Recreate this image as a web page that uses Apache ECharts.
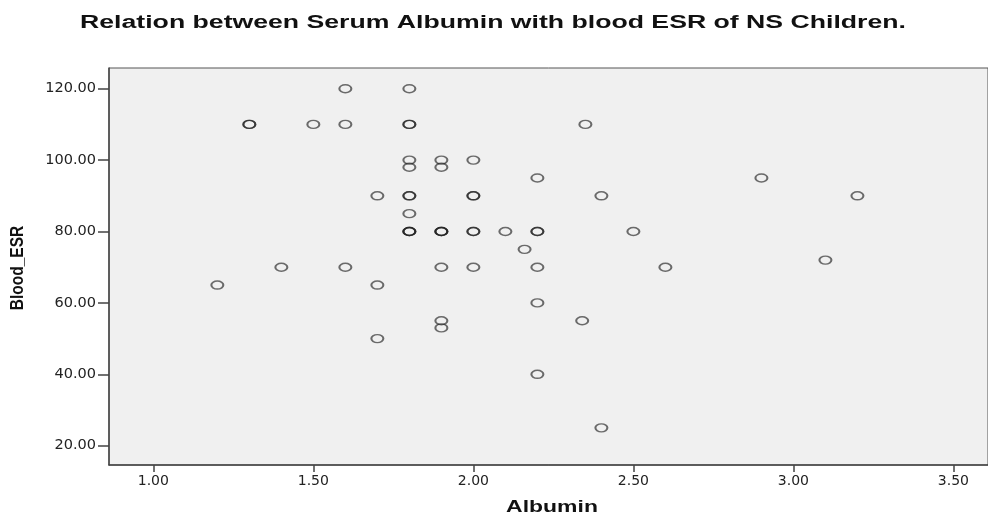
<!DOCTYPE html>
<html>
<head>
<meta charset="utf-8">
<script src="https://cdn.jsdelivr.net/npm/echarts@6/dist/echarts.min.js"></script>
<style>
  html, body { margin: 0; padding: 0; background: #fff; overflow: hidden; }
  #chart_1 { width: 988px; height: 515px; }
</style>
</head>
<body>
<div id="chart_1"></div>
<script>
var albumin = [
  1.2, 1.3, 1.3, 1.4, 1.5, 1.6, 1.6, 1.6, 1.7, 1.7, 1.7,
  1.8, 1.8, 1.8, 1.8, 1.8, 1.8, 1.8, 1.8, 1.8, 1.8, 1.8,
  1.9, 1.9, 1.9, 1.9, 1.9, 1.9, 1.9, 1.9,
  2.0, 2.0, 2.0, 2.0, 2.0, 2.0, 2.1, 2.16,
  2.2, 2.2, 2.2, 2.2, 2.2, 2.2, 2.34, 2.35, 2.4, 2.4, 2.5, 2.6,
  2.9, 3.1, 3.2
];
var bloodEsr = [
  65, 110, 110, 70, 110, 120, 110, 70, 90, 65, 50,
  120, 110, 100, 98, 90, 90, 85, 80, 80, 80, 110,
  100, 98, 80, 80, 70, 55, 53, 80,
  100, 90, 90, 80, 80, 70, 80, 75,
  95, 80, 80, 70, 60, 40, 55, 110, 90, 25, 80, 70,
  95, 72, 90
];
var xTicks = [1.0, 1.5, 2.0, 2.5, 3.0, 3.5];
var yTicks = [20, 40, 60, 80, 100, 120];

var points = albumin.map(function (a, i) { return [a, bloodEsr[i]]; });

var dom = document.getElementById("chart_1");
var myChart = echarts.init(dom);

// SPSS output is stretched sideways, so the big texts are drawn as scaled graphics
var boldText = {
  fontFamily: 'Liberation Sans',
  fontWeight: 'bold',
  fill: '#111',
  align: 'center',
  verticalAlign: 'middle'
};

var option = {
  backgroundColor: '#ffffff',
  animation: false,
  graphic: [
    {
      type: 'text',
      x: 493,
      y: 23,
      scaleX: 1.48,
      style: Object.assign({
        text: 'Relation between Serum Albumin with blood ESR of NS Children.',
        fontSize: 18
      }, boldText)
    },
    {
      type: 'text',
      x: 552,
      y: 507,
      scaleX: 1.35,
      style: Object.assign({ text: 'Albumin', fontSize: 17 }, boldText)
    },
    {
      type: 'text',
      x: 18,
      y: 268,
      rotation: Math.PI / 2,
      scaleY: 1.15,
      style: Object.assign({ text: 'Blood_ESR', fontSize: 15.5 }, boldText)
    }
  ],
  grid: {
    left: 109,
    right: 0,
    top: 68,
    bottom: 50,
    show: true,
    backgroundColor: '#f0f0f0',
    borderColor: '#555',
    borderWidth: 1
  },
  xAxis: {
    type: 'value',
    min: 0.8615,
    max: 3.608,
    axisLine: { show: true, lineStyle: { color: '#444', width: 1.5 } },
    axisTick: {
      show: true,
      length: 7,
      lineStyle: { color: '#444', width: 1.5 },
      customValues: xTicks
    },
    axisLabel: {
      color: '#222',
      fontFamily: 'DejaVu Sans',
      fontSize: 14,
      margin: 9,
      customValues: xTicks,
      formatter: function (v) { return v.toFixed(2); }
    },
    splitLine: { show: false }
  },
  yAxis: {
    type: 'value',
    min: 14.6,
    max: 125.8,
    axisLine: { show: true, lineStyle: { color: '#444', width: 1.5 } },
    axisTick: {
      show: true,
      length: 11,
      lineStyle: { color: '#444', width: 1.5 },
      customValues: yTicks
    },
    axisLabel: {
      color: '#222',
      fontFamily: 'DejaVu Sans',
      fontSize: 14.5,
      margin: 13,
      customValues: yTicks,
      formatter: function (v) { return v.toFixed(2); }
    },
    splitLine: { show: false }
  },
  series: [
    {
      name: 'Blood_ESR',
      type: 'scatter',
      data: points,
      symbol: 'circle',
      symbolSize: [12, 8],
      itemStyle: {
        color: 'rgba(0,0,0,0)',
        borderColor: 'rgba(30,30,30,0.8)',
        borderWidth: 1.7
      }
    }
  ]
};

myChart.setOption(option, true);
</script>
</body>
</html>
